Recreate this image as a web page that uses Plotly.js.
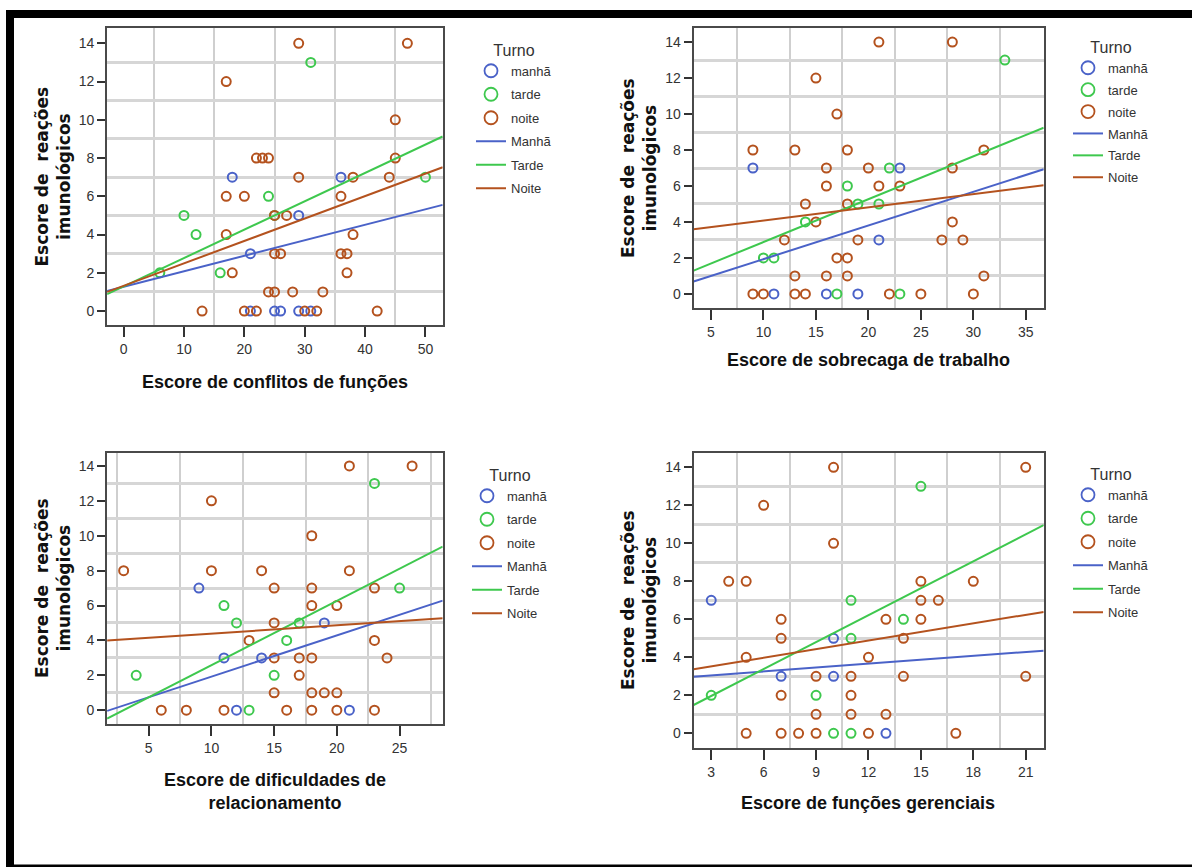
<!DOCTYPE html>
<html>
<head>
<meta charset="utf-8">
<script src="https://cdn.plot.ly/plotly-3.0.1.min.js"></script>
<style>
  html, body { margin: 0; padding: 0; background: #ffffff; }
  #chart { width: 1192px; height: 867px; }
</style>
</head>
<body>
<div id="chart"></div>
<script>
// ---------- Data ----------
const groupNames = ["manhã", "tarde", "noite"];
const lineNames = ["Manhã", "Tarde", "Noite"];
const xTitles = [
  "Escore de conflitos de funções",
  "Escore de sobrecaga de trabalho",
  "Escore de dificuldades de<br>relacionamento",
  "Escore de funções gerenciais"
];
const yTitle = "Escore de&nbsp; reações<br>imunológicos";
const legendTitle = "Turno";

// Panel 1: conflitos de funções
const p1ManhaX = [18, 36, 29, 21, 21, 25, 26, 29, 31];
const p1ManhaY = [7, 7, 5, 3, 0, 0, 0, 0, 0];
const p1TardeX = [31, 50, 24, 10, 25, 12, 6, 16];
const p1TardeY = [13, 7, 6, 5, 5, 4, 2, 2];
const p1NoiteX = [29, 47, 17, 45, 22, 23, 24, 45, 29, 38, 44, 17, 20, 36, 25, 27, 17, 38, 25, 26, 36, 37, 18, 37, 24, 25, 28, 33, 13, 20, 22, 30, 32, 42];
const p1NoiteY = [14, 14, 12, 10, 8, 8, 8, 8, 7, 7, 7, 6, 6, 6, 5, 5, 4, 4, 3, 3, 3, 3, 2, 2, 1, 1, 1, 1, 0, 0, 0, 0, 0, 0];
const p1FitX = [-2.73, 52.85];
const p1FitManha = [1.05, 5.55];
const p1FitTarde = [0.88, 9.13];
const p1FitNoite = [1.0, 7.52];

// Panel 2: sobrecaga de trabalho
const p2ManhaX = [9, 23, 21, 11, 16, 19];
const p2ManhaY = [7, 7, 3, 0, 0, 0];
const p2TardeX = [33, 22, 18, 19, 21, 14, 10, 11, 17, 23];
const p2TardeY = [13, 7, 6, 5, 5, 4, 2, 2, 0, 0];
const p2NoiteX = [21, 28, 15, 17, 9, 13, 18, 31, 16, 20, 28, 16, 21, 23, 14, 18, 15, 28, 12, 19, 27, 29, 17, 18, 13, 16, 18, 31, 9, 10, 13, 14, 22, 25, 30];
const p2NoiteY = [14, 14, 12, 10, 8, 8, 8, 8, 7, 7, 7, 6, 6, 6, 5, 5, 4, 4, 3, 3, 3, 3, 2, 2, 1, 1, 1, 1, 0, 0, 0, 0, 0, 0, 0];
const p2FitX = [3.35, 36.7];
const p2FitManha = [0.69, 6.93];
const p2FitTarde = [1.30, 9.24];
const p2FitNoite = [3.59, 6.04];

// Panel 3: dificuldades de relacionamento
const p3ManhaX = [9, 19, 11, 14, 12, 21];
const p3ManhaY = [7, 5, 3, 3, 0, 0];
const p3TardeX = [23, 25, 11, 12, 17, 16, 4, 15, 13];
const p3TardeY = [13, 7, 6, 5, 5, 4, 2, 2, 0];
const p3NoiteX = [21, 26, 10, 18, 3, 10, 14, 21, 15, 18, 23, 18, 20, 15, 13, 23, 15, 17, 18, 24, 17, 15, 18, 19, 20, 6, 8, 11, 16, 18, 20, 23];
const p3NoiteY = [14, 14, 12, 10, 8, 8, 8, 8, 7, 7, 7, 6, 6, 5, 4, 4, 3, 3, 3, 3, 2, 1, 1, 1, 1, 0, 0, 0, 0, 0, 0, 0];
const p3FitX = [1.68, 28.44];
const p3FitManha = [-0.04, 6.28];
const p3FitTarde = [-0.48, 9.38];
const p3FitNoite = [3.99, 5.27];

// Panel 4: funções gerenciais
const p4ManhaX = [3, 10, 7, 10, 13];
const p4ManhaY = [7, 5, 3, 3, 0];
const p4TardeX = [15, 11, 14, 11, 3, 9, 10, 11];
const p4TardeY = [13, 7, 6, 5, 2, 2, 0, 0];
const p4NoiteX = [10, 21, 6, 10, 4, 5, 15, 18, 15, 16, 7, 13, 15, 7, 14, 5, 12, 9, 11, 14, 21, 7, 11, 9, 11, 13, 5, 7, 8, 9, 12, 17];
const p4NoiteY = [14, 14, 12, 10, 8, 8, 8, 8, 7, 7, 6, 6, 6, 5, 5, 4, 4, 3, 3, 3, 3, 2, 2, 1, 1, 1, 0, 0, 0, 0, 0, 0];
const p4FitX = [1.99, 22.03];
const p4FitManha = [2.98, 4.35];
const p4FitTarde = [1.49, 10.96];
const p4FitNoite = [3.37, 6.39];

// ---------- Styling ----------
const colors = ["#4a62c8", "#3ec84e", "#b4521e"];
const sans = "'Liberation Sans', Arial, sans-serif";
const boldWide = "'DejaVu Sans', Arial, sans-serif";
const W = 1192, H = 867;
const px = v => v / W;
const py = v => 1 - v / H;

const panels = [
  { mx: [p1ManhaX, p1TardeX, p1NoiteX], my: [p1ManhaY, p1TardeY, p1NoiteY],
    fx: p1FitX, fy: [p1FitManha, p1FitTarde, p1FitNoite],
    xdom: [107.1, 442.7], ydom: [28, 325], xr: [-2.73, 52.85], yr: [-0.73, 14.8],
    dtick: 10, tick0: 0, mtick0: 5, mdtick: 10, gap: 3.6,
    leg: { x: 471, y: 35 }, ytitle: { x: 52.5, y: 177 }, xtitle: { x: 275, y: 382 } },
  { mx: [p2ManhaX, p2TardeX, p2NoiteX], my: [p2ManhaY, p2TardeY, p2NoiteY],
    fx: p2FitX, fy: [p2FitManha, p2FitTarde, p2FitNoite],
    xdom: [693.6, 1043.7], ydom: [28, 308], xr: [3.35, 36.7], yr: [-0.78, 14.78],
    dtick: 5, tick0: 5, mtick0: 2.5, mdtick: 5, gap: 2.0,
    leg: { x: 1068, y: 32 }, ytitle: { x: 639, y: 168 }, xtitle: { x: 868, y: 360 } },
  { mx: [p3ManhaX, p3TardeX, p3NoiteX], my: [p3ManhaY, p3TardeY, p3NoiteY],
    fx: p3FitX, fy: [p3FitManha, p3FitTarde, p3FitNoite],
    xdom: [107.1, 442.7], ydom: [452.7, 724], xr: [1.68, 28.44], yr: [-0.79, 14.76],
    dtick: 5, tick0: 5, mtick0: 2.5, mdtick: 5, gap: 3.6,
    leg: { x: 467, y: 460 }, ytitle: { x: 52.5, y: 588.5 }, xtitle: { x: 275, y: 791 } },
  { mx: [p4ManhaX, p4TardeX, p4NoiteX], my: [p4ManhaY, p4TardeY, p4NoiteY],
    fx: p4FitX, fy: [p4FitManha, p4FitTarde, p4FitNoite],
    xdom: [693.6, 1043.7], ydom: [452.7, 748.3], xr: [1.99, 22.03], yr: [-0.79, 14.77],
    dtick: 3, tick0: 3, mtick0: 1.5, mdtick: 3, gap: 3.6,
    leg: { x: 1068, y: 459 }, ytitle: { x: 639, y: 600 }, xtitle: { x: 868, y: 803 } }
];

const traces = [];
const layout = {
  width: W, height: H,
  margin: { l: 0, r: 0, t: 0, b: 0 },
  paper_bgcolor: "#ffffff",
  plot_bgcolor: "#ffffff",
  font: { family: sans, size: 13, color: "#333333" },
  annotations: [],
  shapes: [
    { type: "rect", xref: "paper", yref: "paper", x0: px(6), x1: 1, y0: py(18), y1: py(10), fillcolor: "#000000", line: { width: 0 }, layer: "above" },
    { type: "rect", xref: "paper", yref: "paper", x0: px(6), x1: px(14), y0: py(866), y1: py(10), fillcolor: "#000000", line: { width: 0 }, layer: "above" },
    { type: "rect", xref: "paper", yref: "paper", x0: px(6), x1: 1, y0: py(867), y1: py(864.5), fillcolor: "#000000", line: { width: 0 }, layer: "above" }
  ]
};

panels.forEach((p, i) => {
  const n = i + 1;
  const sfx = n === 1 ? "" : String(n);
  const xa = "x" + sfx, ya = "y" + sfx, legId = "legend" + sfx;
  // data markers (legend entries drawn by larger legend-only markers below)
  for (let g = 0; g < 3; g++) {
    traces.push({
      type: "scatter", mode: "markers", name: groupNames[g], showlegend: false,
      legendgroup: "m" + n + g,
      x: p.mx[g], y: p.my[g], xaxis: xa, yaxis: ya, legend: legId,
      marker: { symbol: "circle-open", size: 9, color: colors[g], line: { width: 2, color: colors[g] } }
    });
  }
  for (let g = 0; g < 3; g++) {
    traces.push({
      type: "scatter", mode: "markers", name: groupNames[g], showlegend: true,
      legendgroup: "m" + n + g,
      x: [null], y: [null], xaxis: xa, yaxis: ya, legend: legId, hoverinfo: "skip",
      marker: { symbol: "circle-open", size: 13, color: colors[g], line: { width: 1.8, color: colors[g] } }
    });
  }
  for (let g = 0; g < 3; g++) {
    traces.push({
      type: "scatter", mode: "lines", name: lineNames[g],
      legendgroup: "l" + n + g,
      x: p.fx, y: p.fy[g], xaxis: xa, yaxis: ya, legend: legId,
      line: { color: colors[g], width: 2 }
    });
  }
  const axBase = {
    showline: true, mirror: true, linecolor: "#4a4a4a", linewidth: 2,
    ticks: "outside", tickcolor: "#333333", tickwidth: 2,
    showgrid: false, zeroline: false, fixedrange: true,
    tickfont: { family: sans, size: 14, color: "#333333" }
  };
  layout["xaxis" + sfx] = Object.assign({}, axBase, {
    domain: [px(p.xdom[0]), px(p.xdom[1])], range: p.xr, anchor: ya,
    tickmode: "linear", tick0: p.tick0, dtick: p.dtick, ticklen: 10,
    minor: { tick0: p.mtick0, dtick: p.mdtick, showgrid: true, gridcolor: "#cfcfcf", gridwidth: 2, ticks: "" }
  });
  layout["yaxis" + sfx] = Object.assign({}, axBase, {
    domain: [py(p.ydom[1]), py(p.ydom[0])], range: p.yr, anchor: xa,
    tickmode: "linear", tick0: 0, dtick: 2, ticklen: 8,
    minor: { tick0: 1, dtick: 2, showgrid: true, gridcolor: "#d6d6d6", gridwidth: 2.5, ticks: "" }
  });
  layout[legId] = {
    x: px(p.leg.x), y: py(p.leg.y), xanchor: "left", yanchor: "top",
    bgcolor: "rgba(0,0,0,0)", borderwidth: 0,
    itemsizing: "trace", traceorder: "grouped", tracegroupgap: p.gap,
    font: { family: sans, size: 13, color: "#333333" },
    title: { text: legendTitle, side: "top center", font: { family: sans, size: 16, color: "#333333" } }
  };
  layout.annotations.push({
    xref: "paper", yref: "paper", x: px(p.ytitle.x), y: py(p.ytitle.y),
    xanchor: "center", yanchor: "middle", textangle: -90, showarrow: false,
    text: "<b>" + yTitle + "</b>",
    font: { family: boldWide, size: 17, color: "#111111" }
  });
  layout.annotations.push({
    xref: "paper", yref: "paper", x: px(p.xtitle.x), y: py(p.xtitle.y),
    xanchor: "center", yanchor: "middle", showarrow: false,
    text: "<b>" + xTitles[i] + "</b>",
    font: { family: sans, size: 18, color: "#111111" }
  });
});

Plotly.newPlot("chart", traces, layout, { displayModeBar: false });
</script>
</body>
</html>
